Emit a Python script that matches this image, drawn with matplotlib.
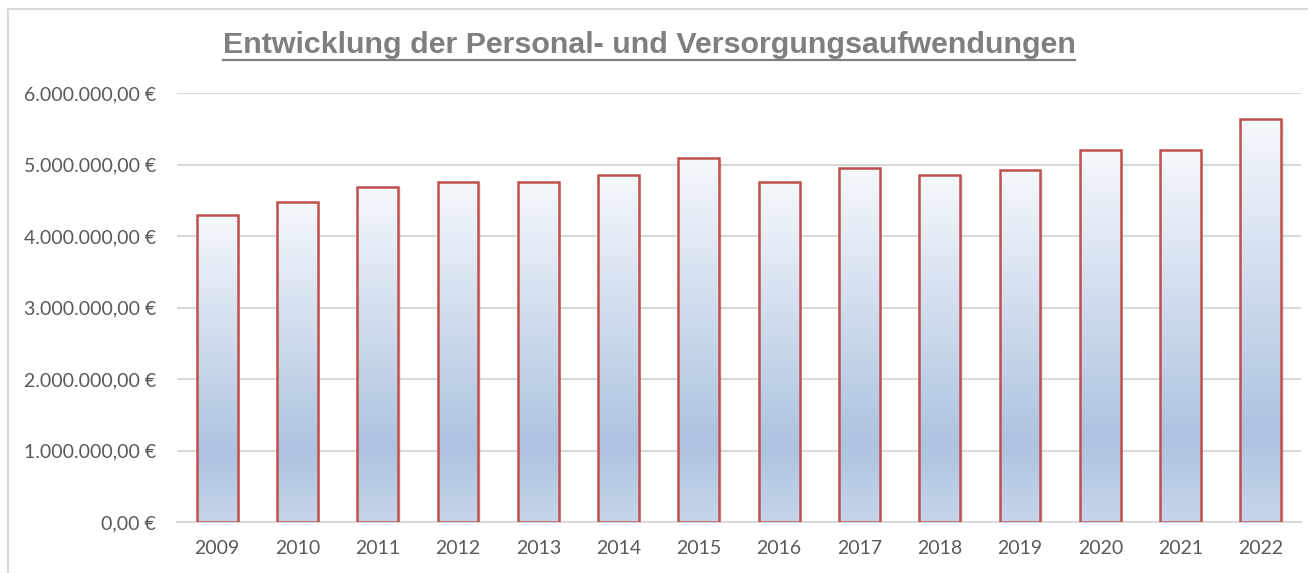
import numpy as np
import matplotlib.pyplot as plt
from matplotlib.patches import Rectangle
from matplotlib.lines import Line2D
from matplotlib.colors import LinearSegmentedColormap
from matplotlib.ticker import FuncFormatter, MultipleLocator

# data
years = ['2009', '2010', '2011', '2012', '2013', '2014', '2015',
         '2016', '2017', '2018', '2019', '2020', '2021', '2022']
aufwendungen = [4300000, 4470000, 4680000, 4760000, 4760000, 4860000, 5090000,
                4760000, 4950000, 4860000, 4930000, 5200000, 5200000, 5640000]

title = 'Entwicklung der Personal- und Versorgungsaufwendungen'


def euro(v, pos=None):
    s = f'{v:,.2f}'.replace(',', 'X').replace('.', ',').replace('X', '.')
    return s + ' €'


W, H = 1308, 573
fig = plt.figure(figsize=(W / 100, H / 100), dpi=100)
ax = fig.add_axes([177 / W, 1 - 522 / H, 1124 / W, 429 / H])

# outer chart border (only top/left visible in the crop)
fig.add_artist(Line2D([8 / W, 1], [1 - 9 / H, 1 - 9 / H], color='#D9D9D9', lw=1.5))
fig.add_artist(Line2D([8 / W, 8 / W], [0, 1 - 9 / H], color='#D9D9D9', lw=1.5))

cmap = LinearSegmentedColormap.from_list(
    'bar', [(0, '#C6D5EA'), (0.22, '#ADC3E0'), (1, '#F5F8FC')])
grad = np.linspace(0, 1, 256).reshape(-1, 1)

x = np.arange(len(years))
w = 0.51

# soft shadow
for xi, v in zip(x, aufwendungen):
    ax.add_patch(Rectangle((xi - w / 2 + 0.03, 0), w, v - 25000,
                           facecolor='#000000', alpha=0.08, lw=0, zorder=2))

bars = ax.bar(x, aufwendungen, width=w, facecolor='none',
              edgecolor='#C0504D', linewidth=1.8, zorder=4)
for b in bars:
    im = ax.imshow(grad, extent=[b.get_x(), b.get_x() + b.get_width(), 0, b.get_height()],
                   origin='lower', aspect='auto', cmap=cmap, zorder=3)
    im.set_clip_path(b)

ax.set_xlim(-0.5, len(years) - 0.5)
ax.set_ylim(0, 6000000)
ax.yaxis.set_major_locator(MultipleLocator(1000000))
ax.yaxis.set_major_formatter(FuncFormatter(euro))
ax.set_xticks(x)
ax.set_xticklabels(years)

ax.grid(axis='y', color='#D9D9D9', linewidth=1.5, zorder=0)
ax.set_axisbelow(True)
for s in ['top', 'right', 'left']:
    ax.spines[s].set_visible(False)
ax.spines['bottom'].set_color('#D9D9D9')
ax.spines['bottom'].set_linewidth(1.5)
ax.tick_params(axis='both', length=0, colors='#595959', labelsize=14)
ax.tick_params(axis='y', pad=15)
ax.tick_params(axis='x', pad=13)
for lab in ax.get_xticklabels() + ax.get_yticklabels():
    lab.set_fontfamily('Lato')

t = fig.text(649 / W, 1 - 53 / H, title, ha='center', va='baseline',
             fontsize=21.9, fontweight='bold', color='#7F7F7F', family='Liberation Sans')

# underline the title
fig.canvas.draw()
bb = t.get_window_extent()
yu = 1 - 60.3 / H
fig.add_artist(Line2D([bb.x0 / W, bb.x1 / W], [yu, yu], color='#7F7F7F', lw=1.6))

fig.savefig('out.png', dpi=100)
